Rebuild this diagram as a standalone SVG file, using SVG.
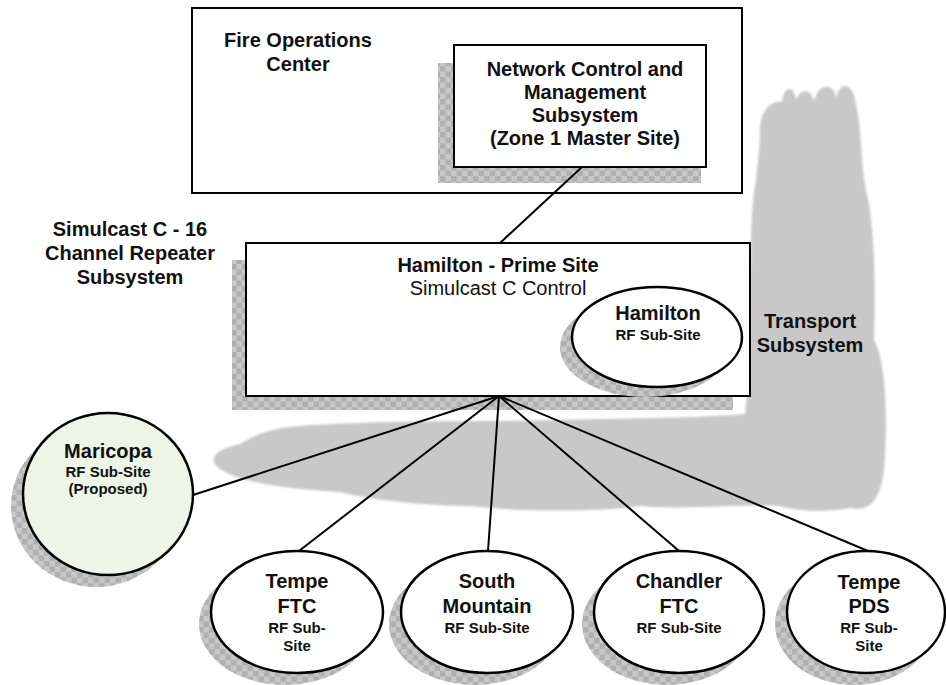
<svg xmlns="http://www.w3.org/2000/svg" width="946" height="685" viewBox="0 0 946 685">
<defs>
<pattern id="chk" width="11" height="11" patternUnits="userSpaceOnUse">
<rect width="11" height="11" fill="#c8c8c8"/>
<rect width="5.5" height="5.5" fill="#b0b0b0"/>
<rect x="5.5" y="5.5" width="5.5" height="5.5" fill="#b0b0b0"/>
</pattern>
<filter id="soft" x="-5%" y="-5%" width="110%" height="110%"><feGaussianBlur stdDeviation="1.2"/></filter>
</defs>
<style>
.box{fill:#fff;stroke:#000;stroke-width:2}
.ell{fill:#fff;stroke:#000;stroke-width:2.5}
.shd{fill:url(#chk)}
.b{font-family:"Liberation Sans",Arial,sans-serif;font-weight:bold;font-size:20px;fill:#111;text-anchor:middle}
.s{font-family:"Liberation Sans",Arial,sans-serif;font-weight:bold;font-size:15px;fill:#111;text-anchor:middle}
.n{font-family:"Liberation Sans",Arial,sans-serif;font-size:20px;fill:#111;text-anchor:middle}
.con{stroke:#000;stroke-width:2;fill:none}
</style>
<rect width="946" height="685" fill="#fff"/>

<g id="transport">
<path filter="url(#soft)" fill="#c8c8c8" d="M 760 130 C 760 110 772 100 782 102 C 784 85 794 85 796 100 C 800 88 812 88 814 102 C 818 82 834 82 836 98 C 840 80 854 82 856 105 C 862 130 860 160 866 190 C 874 220 876 280 874 340 C 886 360 888 420 884 470 C 880 500 870 512 850 508 C 830 512 800 512 780 506 C 740 504 680 510 640 506 C 600 512 520 512 470 506 C 430 506 370 500 340 492 C 300 490 250 485 225 472 C 205 462 212 450 240 444 C 255 435 270 428 300 426 C 380 420 480 422 560 420 C 640 418 700 418 745 414 L 748 380 C 752 300 748 220 756 180 C 758 160 760 145 760 130 Z"/>
<text class="b" x="810" y="328">Transport</text>
<text class="b" x="810" y="352">Subsystem</text>
</g>

<g id="fire-ops">
<rect class="box" x="192" y="8" width="550" height="185"/>
<text class="b" x="298" y="47">Fire Operations</text>
<text class="b" x="298" y="71">Center</text>
</g>

<g id="nms">
<rect class="shd" x="438" y="63" width="263" height="120"/>
<rect class="box" x="454" y="45" width="252" height="122"/>
<text class="b" x="585" y="76">Network Control and</text>
<text class="b" x="585" y="99">Management</text>
<text class="b" x="585" y="122">Subsystem</text>
<text class="b" x="585" y="145">(Zone 1 Master Site)</text>
</g>

<g id="simulcast-label">
<text class="b" x="130" y="236">Simulcast C - 16</text>
<text class="b" x="130" y="260">Channel Repeater</text>
<text class="b" x="130" y="284">Subsystem</text>
</g>

<g id="hamilton-prime">
<rect class="shd" x="232" y="260" width="501" height="150"/>
<rect class="box" x="246" y="243" width="504" height="153"/>
<text class="b" x="498" y="272">Hamilton - Prime Site</text>
<text class="n" x="498" y="295">Simulcast C Control</text>
</g>

<g id="hamilton-rf">
<ellipse class="shd" cx="645" cy="347" rx="85" ry="50"/>
<ellipse class="ell" cx="657" cy="337" rx="85" ry="50"/>
<text class="b" x="658" y="320">Hamilton</text>
<text class="s" x="658" y="340">RF Sub-Site</text>
</g>

<g id="maricopa">
<ellipse class="shd" cx="96" cy="506" rx="85" ry="81"/>
<ellipse class="ell" cx="108" cy="494" rx="85" ry="81" style="fill:#eef4e6"/>
<text class="b" x="108" y="458">Maricopa</text>
<text class="s" x="108" y="477">RF Sub-Site</text>
<text class="s" x="108" y="494">(Proposed)</text>
</g>

<g id="tempe-ftc">
<ellipse class="shd" cx="285" cy="624" rx="86" ry="61"/>
<ellipse class="ell" cx="297" cy="612" rx="86" ry="61"/>
<text class="b" x="297" y="588">Tempe</text>
<text class="b" x="297" y="613">FTC</text>
<text class="s" x="297" y="633">RF Sub-</text>
<text class="s" x="297" y="651">Site</text>
</g>

<g id="south-mountain">
<ellipse class="shd" cx="475" cy="624" rx="86" ry="61"/>
<ellipse class="ell" cx="487" cy="612" rx="86" ry="61"/>
<text class="b" x="487" y="588">South</text>
<text class="b" x="487" y="613">Mountain</text>
<text class="s" x="487" y="633">RF Sub-Site</text>
</g>

<g id="chandler-ftc">
<ellipse class="shd" cx="667" cy="624" rx="85" ry="61"/>
<ellipse class="ell" cx="679" cy="612" rx="85" ry="61"/>
<text class="b" x="679" y="588">Chandler</text>
<text class="b" x="679" y="613">FTC</text>
<text class="s" x="679" y="633">RF Sub-Site</text>
</g>

<g id="tempe-pds">
<ellipse class="shd" cx="854" cy="624" rx="79" ry="61"/>
<ellipse class="ell" cx="866" cy="612" rx="79" ry="61"/>
<text class="b" x="869" y="589">Tempe</text>
<text class="b" x="869" y="613">PDS</text>
<text class="s" x="869" y="633">RF Sub-</text>
<text class="s" x="869" y="651">Site</text>
</g>

<g id="connectors">
<line class="con" x1="582" y1="167" x2="500" y2="243"/>
<line class="con" x1="499" y1="396" x2="193" y2="495"/>
<line class="con" x1="499" y1="396" x2="299" y2="551"/>
<line class="con" x1="499" y1="396" x2="488" y2="551"/>
<line class="con" x1="499" y1="396" x2="679" y2="551"/>
<line class="con" x1="499" y1="396" x2="868" y2="551"/>
</g>
</svg>
